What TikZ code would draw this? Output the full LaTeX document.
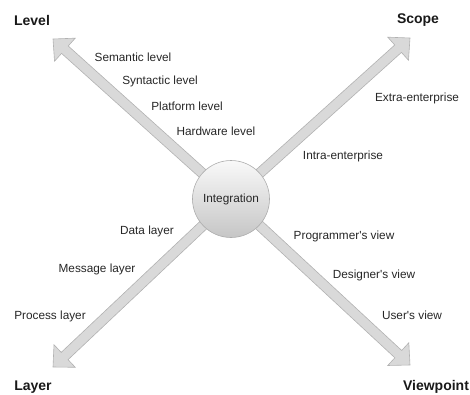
\documentclass[tikz,border=0pt]{standalone}
\usepackage{fontspec}
\setmainfont{Liberation Sans}
\usetikzlibrary{calc}

% broad outlined arrow from #1 to the tip #2
\newcommand{\fatarrow}[2]{%
    \coordinate (#2-base) at ($(#2)!16pt!(#1)$);
    \path[fatarrow] ($(#1)!5pt!90:(#2)$) -- ($(#2-base)!5pt!90:(#2)$)
    -- ($(#2-base)!15.5pt!90:(#2)$) -- (#2)
    -- ($(#2-base)!15.5pt!-90:(#2)$) -- ($(#2-base)!5pt!-90:(#2)$)
    -- ($(#1)!5pt!-90:(#2)$) -- cycle;
}

\begin{document}
\begin{tikzpicture}[x=1pt, y=-1pt,
    fatarrow/.style={fill=gray!30, draw=gray!60, line width=0.6pt, line join=miter},
    hub/.style={circle, draw=gray!65, line width=0.6pt, top color=gray!5, bottom color=gray!45,
        minimum size=77pt, inner sep=0pt, font=\fontsize{11.8}{14}\selectfont, text=black!85},
    lbl/.style={font=\fontsize{11.8}{14}\selectfont, text=black!85, inner sep=0pt},
    dim/.style={font=\fontsize{14}{16}\selectfont\bfseries, text=black!90, inner sep=0pt}
    ]
    \useasboundingbox (0,0) rectangle (470,394);
    
    \coordinate (c) at (231,199);
    \coordinate (leveltip) at (53,39);
    \coordinate (scopetip) at (410,38);
    \coordinate (layertip) at (53,367);
    \coordinate (viewtip) at (410,365);
    
    % the four axes, under the hub
    \foreach \t in {leveltip, scopetip, layertip, viewtip} {
        \fatarrow{c}{\t}
    }
    
    \node[hub] (int) at (c) {Integration};
    
    % axis names
    \node[dim] (level) at (32,20) {Level};
    \node[dim] (scope) at (418,20) {Scope};
    \node[dim] (layer) at (33,387) {Layer};
    \node[dim] (viewpoint) at (436,387) {Viewpoint};
    
    % steps along each axis
    \foreach \nm/\px/\py/\txt in {
        sem/133/57/Semantic level, syn/160/81/Syntactic level,
        plat/187/106/Platform level, hw/216/131/Hardware level,
        extra/417/98/Extra-enterprise, intra/343/156/Intra-enterprise,
        data/147/231/Data layer, msg/97/269/Message layer, proc/50/316/Process layer,
        prog/344/236/Programmer\textquotesingle s view, des/374/275/Designer\textquotesingle s view,
        user/412/315/User\textquotesingle s view} {
        \node[lbl] (\nm) at (\px,\py) {\txt};
    }
\end{tikzpicture}
\end{document}
